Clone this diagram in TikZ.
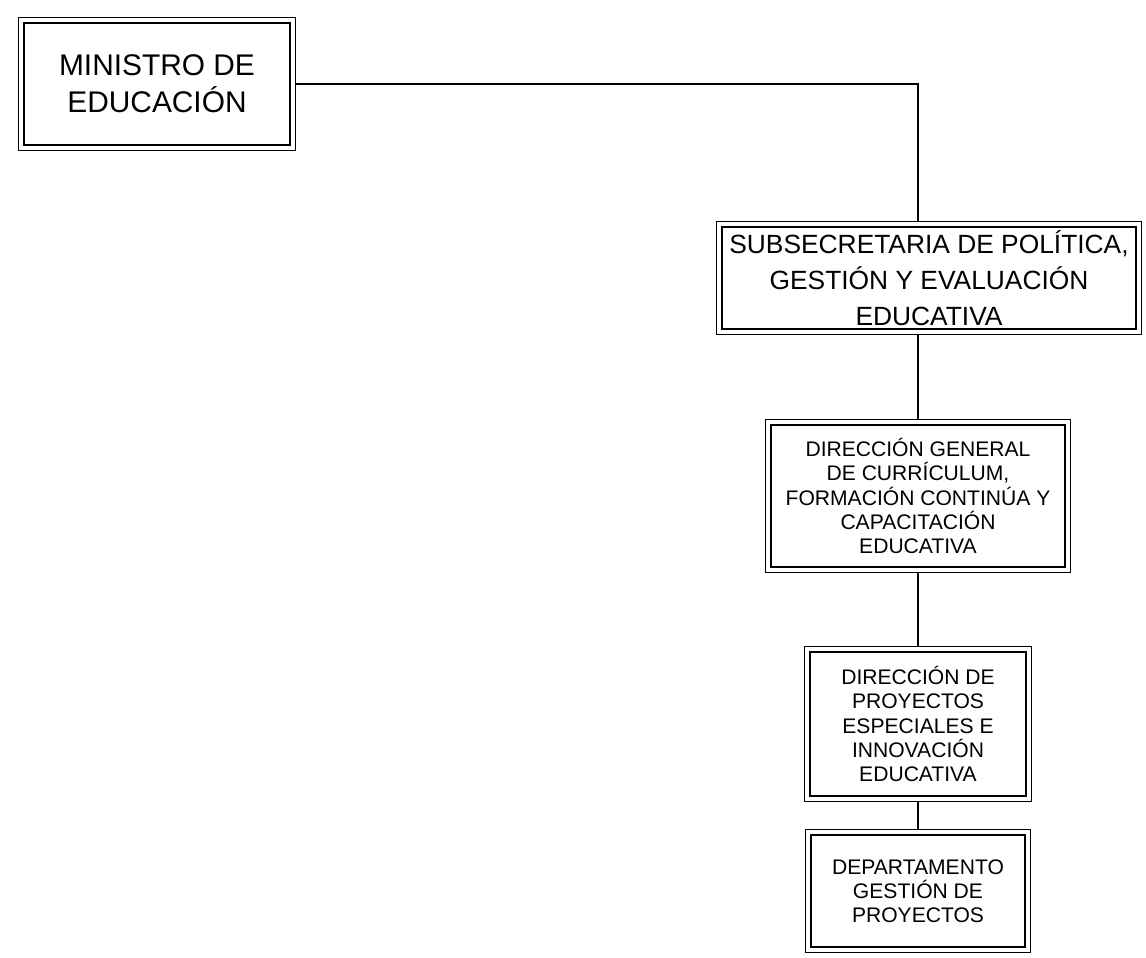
\documentclass[tikz,border=0pt]{standalone}
\usepackage{fontspec}
\setmainfont{Liberation Sans}
\begin{document}
\begin{tikzpicture}[x=0.02cm,y=-0.02cm,
    orgbox/.style={draw,line width=1.1pt,inner sep=0pt,outer sep=3.2pt,align=center,
      append after command={\pgfextra{\draw[line width=0.5pt]
        (\tikzlastnode.north west) rectangle (\tikzlastnode.south east);}}},
    bigtext/.style={font=\fontsize{17}{21}\selectfont},
    midtext/.style={font=\fontsize{15}{20.5}\selectfont},
    smalltext/.style={font=\fontsize{12}{13.75}\selectfont}]
    \useasboundingbox (0,0) rectangle (1146,957);
    % Boxes
    \node[orgbox,bigtext,minimum width=5.33cm,minimum height=2.45cm] (ministro) at (157,84)
      {MINISTRO DE\\EDUCACIÓN};
    \node[orgbox,midtext,minimum width=8.29cm,minimum height=2.05cm] (subsec) at (929,278)
      {SUBSECRETARIA DE POLÍTICA,\\GESTIÓN Y EVALUACIÓN\\EDUCATIVA};
    \node[orgbox,smalltext,minimum width=5.89cm,minimum height=2.83cm] (dirgen) at (918,496)
      {DIRECCIÓN GENERAL\\DE CURRÍCULUM,\\FORMACIÓN CONTINÚA Y\\CAPACITACIÓN\\EDUCATIVA};
    \node[orgbox,smalltext,minimum width=4.33cm,minimum height=2.87cm] (dirproy) at (918,724)
      {DIRECCIÓN DE\\PROYECTOS\\ESPECIALES E\\INNOVACIÓN\\EDUCATIVA};
    \node[orgbox,smalltext,minimum width=4.27cm,minimum height=2.23cm] (depto) at (918,891)
      {DEPARTAMENTO\\GESTIÓN DE\\PROYECTOS};
    % Connections
    \draw[line width=0.8pt] (ministro.east) -| (dirgen.north |- subsec.north);
    \draw[line width=0.8pt] (dirgen.north |- subsec.south) -- (dirgen.north);
    \draw[line width=0.8pt] (dirgen.south) -- (dirproy.north);
    \draw[line width=0.8pt] (dirproy.south) -- (depto.north);
\end{tikzpicture}
\end{document}
